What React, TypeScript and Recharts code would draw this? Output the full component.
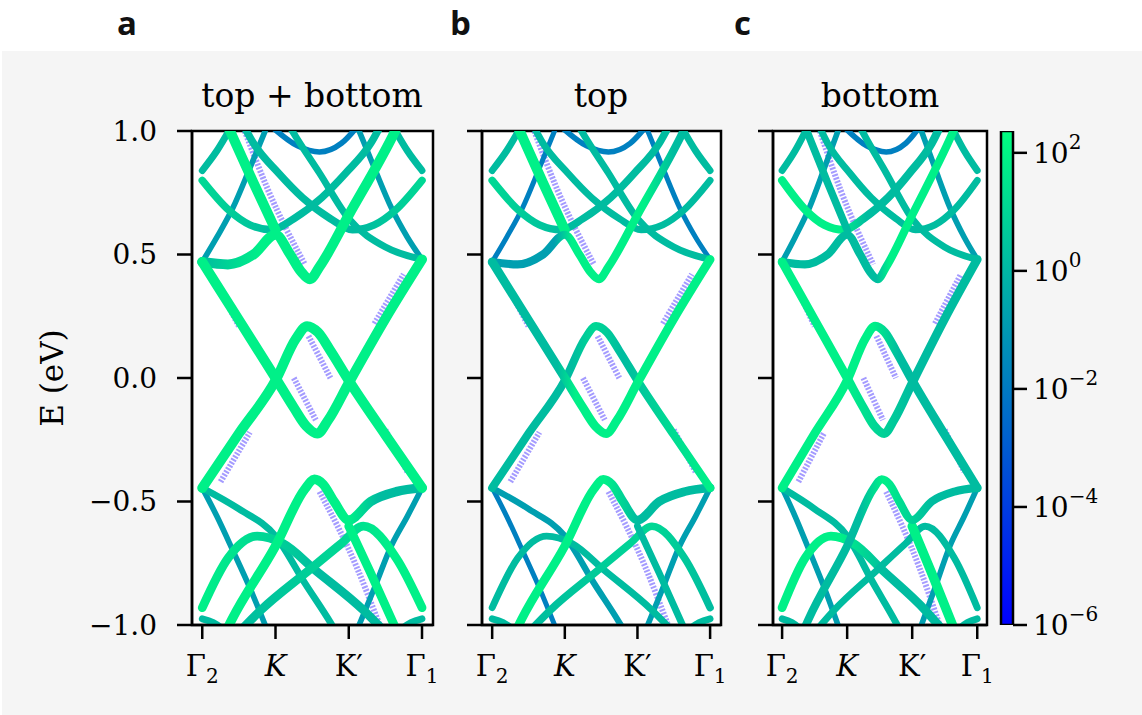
import { LineChart, Line, XAxis, YAxis, ReferenceArea, CartesianGrid, BarChart, Bar } from "recharts"

// k path: Γ2 = 0, K = 1, K' = 2, Γ1 = 3
const kTicks = [0, 1, 2, 3]
const eTicks = [-1, -0.5, 0, 0.5, 1]
const cbTicks = [-6, -4, -2, 0, 2] // log10 of the weight
const cbTop = 2.37

// bands as [k, E (eV)]
const bandA = [[0, 0.47], [0.5, 0.235], [1, 0], [1.25, -0.12], [1.42, -0.195], [1.57, -0.225], [1.72, -0.17], [2, -0.02], [2.5, 0.24], [3, 0.48]]
const bandB = [[0, -0.445], [0.5, -0.225], [1, -0.01], [1.28, 0.16], [1.43, 0.21], [1.58, 0.185], [1.75, 0.11], [2, -0.01], [2.5, -0.23], [3, -0.445]]
const bandC = [[0, 0.47], [0.35, 0.46], [0.7, 0.5], [1, 0.58], [1.2, 0.5], [1.35, 0.43], [1.47, 0.4], [1.6, 0.45], [2, 0.66], [2.6, 0.98], [2.7, 1.04]]
const bandCm = [[0.3, -1.04], [0.4, -0.98], [1, -0.68], [1.4, -0.45], [1.53, -0.41], [1.65, -0.43], [1.8, -0.5], [2, -0.575], [2.3, -0.5], [2.65, -0.46], [3, -0.445]]
const bandD = [[1.15, 1.04], [1.25, 0.99], [1.6, 0.83], [2, 0.645], [2.5, 0.53], [3, 0.48]]
const bandDm = [[0, -0.445], [0.5, -0.53], [1, -0.64], [1.4, -0.83], [1.75, -0.99], [1.85, -1.04]]
const bandE = [[2.1, -1.03], [2.35, -0.85], [2.58, -0.68], [2.8, -0.56], [3, -0.445]]
const bandEm = [[0, 0.47], [0.2, 0.57], [0.42, 0.69], [0.65, 0.85], [0.9, 1.03]]
const bandF = [[0, -0.445], [0.2, -0.56], [0.42, -0.7], [0.65, -0.85], [0.9, -1.03]]
const bandFm = [[2.1, 1.03], [2.35, 0.85], [2.58, 0.69], [2.8, 0.57], [3, 0.48]]
const bandHTL = [[0, 0.8], [0.36, 0.68], [0.65, 0.62], [0.95, 0.6], [1.25, 0.645], [1.63, 0.73], [1.96, 0.83], [2.3, 0.95], [2.45, 1.03]]
const bandHTR = [[0.55, 1.03], [0.7, 0.95], [1.04, 0.83], [1.37, 0.73], [1.75, 0.645], [2.05, 0.6], [2.35, 0.62], [2.64, 0.68], [3, 0.8]]
const bandHBL = [[0, -0.93], [0.35, -0.73], [0.75, -0.64], [1.1, -0.67], [1.55, -0.78], [2.2, -0.94], [2.5, -1.03]]
const bandHBR = [[0.5, -1.03], [0.8, -0.94], [1.45, -0.78], [1.9, -0.67], [2.2, -0.6], [2.65, -0.73], [3, -0.93]]
const bandI = [[0.32, 1.04], [0.38, 1.0], [0.7, 0.79], [1, 0.6]]
const bandIm = [[2, -0.6], [2.3, -0.79], [2.62, -1.0], [2.68, -1.04]]
const bandGL = [[0, 0.84], [0.2, 0.92], [0.42, 1.03]]
const bandGR = [[2.58, 1.03], [2.8, 0.92], [3, 0.84]]
const bandSL = [[0, -0.975], [0.15, -0.99], [0.3, -1.02]]
const bandSR = [[2.7, -1.02], [2.85, -0.99], [3, -0.975]]
const bandJ = [[0.9, 1.03], [1.3, 0.94], [1.6, 0.915], [1.9, 0.95], [2.15, 1.03]]

// faint low-weight states
const ghosts = [
  [[0.58, 1.0], [0.9, 0.76], [1.4, 0.46]],
  [[1.6, -0.46], [2.1, -0.76], [2.42, -1.0]],
  [[0.2, 0.38], [0.5, 0.21]],
  [[2.5, -0.21], [2.8, -0.38]],
  [[2.35, 0.22], [2.75, 0.42]],
  [[0.25, -0.42], [0.65, -0.22]],
  [[1.45, 0.17], [1.75, 0.0]],
  [[1.25, 0.0], [1.55, -0.17]],
]

const bands: Record<string, number[][]> = {
  A: bandA, B: bandB, C: bandC, Cm: bandCm, D: bandD, Dm: bandDm, E: bandE, Em: bandEm,
  F: bandF, Fm: bandFm, HTL: bandHTL, HTR: bandHTR, HBL: bandHBL, HBR: bandHBR,
  I: bandI, Im: bandIm, GL: bandGL, GR: bandGR, SL: bandSL, SR: bandSR, J: bandJ,
}
const drawOrder = ["J", "E", "Em", "F", "Fm", "SL", "SR", "GL", "GR", "D", "Dm", "HTL", "HTR", "HBL", "HBR", "I", "Im", "C", "Cm", "B", "A"]

// winter colormap shades
const G = "#00f088"
const GT = "#00d894"
const T = "#00bca0"
const TB = "#009fb0"
const BL = "#0080c0"

type Style = [Array<[number, string]>, number]

const styleAll: Record<string, Style> = {
  A: [[[0, G]], 8], B: [[[0, G]], 8], C: [[[0, T], [0.8, G]], 8], Cm: [[[0.4, G], [2, G], [2.4, T]], 7.5],
  D: [[[0, T]], 5.5], Dm: [[[0, T]], 5.5], E: [[[0, TB]], 4.5], Em: [[[0, TB]], 4.5], F: [[[0, TB]], 4.5], Fm: [[[0, TB]], 4.5],
  HTL: [[[0, GT], [1, T]], 6], HTR: [[[0, T], [2.2, T], [3, GT]], 6],
  HBL: [[[0, G], [0.8, GT], [1.6, T]], 7], HBR: [[[0, T], [1.9, GT], [2.6, G]], 7],
  I: [[[0, G]], 8], Im: [[[0, G]], 7], GL: [[[0, T]], 5.5], GR: [[[0, T]], 5.5], SL: [[[0, T]], 5.5], SR: [[[0, T]], 5.5],
  J: [[[0, BL]], 4.5],
}
const styleTop: Record<string, Style> = {
  A: [[[0, T], [0.9, T], [1.15, G]], 7], B: [[[0, T], [1.1, T], [1.4, GT], [1.8, T], [2.4, GT], [3, G]], 6.5],
  C: [[[0, TB], [0.85, TB], [1.1, G], [2.1, G], [2.5, T]], 6.5], Cm: [[[0.4, G], [1.55, G], [2, T]], 7],
  D: [[[0, T]], 5.5], Dm: [[[0, TB]], 5], E: [[[0, TB]], 4.5], Em: [[[0, BL]], 4], F: [[[0, BL]], 4], Fm: [[[0, BL]], 4],
  HTL: [[[0, GT], [1, T]], 6], HTR: [[[0, T]], 5.5], HBL: [[[0, T]], 5.5], HBR: [[[0, T], [2.2, GT], [3, T]], 6],
  I: [[[0, G]], 8], Im: [[[0, T]], 5.5], GL: [[[0, T]], 5.5], GR: [[[0, T]], 5.5], SL: [[[0, T]], 5.5], SR: [[[0, T]], 5.5],
  J: [[[0, BL]], 4.5],
}
const styleBottom: Record<string, Style> = {
  A: [[[0, G], [1, G], [1.4, GT], [2, T]], 7], B: [[[0, G], [1.4, G], [1.8, T]], 7],
  C: [[[0, T], [1.45, T], [1.65, G]], 6.5], Cm: [[[0.4, T], [1.2, T], [1.55, G], [1.9, GT], [2.3, T]], 6.5],
  D: [[[0, T]], 5.5], Dm: [[[0, T]], 5.5], E: [[[0, TB]], 4.5], Em: [[[0, TB]], 4.5], F: [[[0, TB]], 4.5], Fm: [[[0, TB]], 4.5],
  HTL: [[[0, G], [0.9, G], [1.3, T]], 6.5], HTR: [[[0, T]], 5.5], HBL: [[[0, G], [0.9, G], [1.6, T]], 7], HBR: [[[0, T]], 5.5],
  I: [[[0, T]], 6], Im: [[[0, G]], 7.5], GL: [[[0, T]], 5.5], GR: [[[0, T]], 5.5], SL: [[[0, T]], 5.5], SR: [[[0, T]], 5.5],
  J: [[[0, BL]], 4.5],
}

const SERIF = "DejaVu Serif"
const WIDTH_SCALE = 1.25
const kDomain = [-0.14, 3.15]
const axisStyle = { stroke: "#000", strokeWidth: 2.5 }
const pts = (arr: number[][]) => arr.map(([k, e]) => ({ k, e }))
const fmtE = (v: number) => (v < 0 ? "−" : "") + Math.abs(v).toFixed(1)

const KTick = ({ x, y, payload }: any) => {
  const v = payload.value
  const base = { x, y: y + 27, textAnchor: "middle" as const, fontFamily: SERIF, fontSize: 29, fill: "#000" }
  if (v === 1) return <text {...base}><tspan fontStyle="italic">K</tspan></text>
  if (v === 2) return <text {...base}>K′</text>
  return (
    <text {...base}>
      Γ<tspan fontSize={20} dy={7}>{v === 0 ? "2" : "1"}</tspan>
    </text>
  )
}

const CbTick = ({ x, y, payload }: any) => {
  const v = payload.value
  const sup = (v < 0 ? "−" : "") + Math.abs(v)
  return (
    <text x={x} y={y + 10} fontFamily={SERIF} fontSize={28} fill="#000">
      10<tspan fontSize={20} dy={-14}>{sup}</tspan>
    </text>
  )
}

function Panel({ id, width, yWidth, showLabels, styles }: { id: string; width: number; yWidth: number; showLabels: boolean; styles: Record<string, Style> }) {
  const grads = drawOrder.filter((n) => styles[n][0].length > 1).map((n) => {
    const ks = bands[n].map((p) => p[0])
    const k0 = Math.min(...ks)
    const k1 = Math.max(...ks)
    return (
      <linearGradient key={n} id={`${id}-${n}`} x1="0" y1="0" x2="1" y2="0">
        {styles[n][0].map(([k, c], i) => (
          <stop key={i} offset={Math.min(1, Math.max(0, (k - k0) / (k1 - k0)))} stopColor={c} />
        ))}
      </linearGradient>
    )
  })
  return (
    <LineChart width={width} height={715} margin={{ top: 131, right: 10, bottom: 30, left: 0 }}>
      <defs>{grads}</defs>
      <CartesianGrid fill="#fff" horizontal={false} vertical={false} />
      <XAxis
        type="number" dataKey="k" domain={kDomain} ticks={kTicks} allowDataOverflow interval={0}
        height={60} tickSize={14} tickMargin={10} axisLine={axisStyle} tickLine={axisStyle}
        tick={(p: any) => <KTick {...p} />}
      />
      <YAxis
        type="number" dataKey="e" domain={[-1, 1]} ticks={eTicks} allowDataOverflow interval={0}
        width={yWidth} tickSize={15} tickMargin={20} axisLine={axisStyle} tickLine={axisStyle}
        tickFormatter={showLabels ? fmtE : () => ""}
        tick={{ fill: "#000", fontSize: 28, fontFamily: SERIF }}
      />
      {ghosts.map((g, i) => (
        <Line key={`g${i}`} data={pts(g)} dataKey="e" type="monotone" dot={false} isAnimationActive={false}
          stroke="#4a38ff" strokeOpacity={0.5} strokeWidth={6} strokeDasharray="2 1.5" />
      ))}
      {drawOrder.map((n) => {
        const [stops, w] = styles[n]
        return (
          <Line key={n} data={pts(bands[n])} dataKey="e" type="monotone" dot={false} isAnimationActive={false}
            stroke={stops.length > 1 ? `url(#${id}-${n})` : stops[0][1]} strokeWidth={w * WIDTH_SCALE} strokeLinecap="round" />
        )
      })}
      <ReferenceArea x1={kDomain[0]} x2={kDomain[1]} y1={-1} y2={1} fill="none" stroke="#000" strokeWidth={2.5} />
    </LineChart>
  )
}

const cbData = [{ name: "weight", range: [cbTicks[0], cbTop] }]

function ColorBar() {
  return (
    <BarChart width={130} height={715} data={cbData} margin={{ top: 131, right: 0, bottom: 90, left: 11 }} barCategoryGap={0}>
      <defs>
        <linearGradient id="winter" x1="0" y1="0" x2="0" y2="1">
          <stop offset={0} stopColor="#00ff80" />
          <stop offset={1} stopColor="#0000ff" />
        </linearGradient>
      </defs>
      <XAxis dataKey="name" hide />
      <YAxis
        orientation="right" type="number" domain={[cbTicks[0], cbTop]} ticks={cbTicks} allowDataOverflow interval={0}
        width={107} tickSize={14} tickMargin={6} axisLine={false} tickLine={axisStyle}
        tick={(p: any) => <CbTick {...p} />}
      />
      <Bar dataKey="range" fill="url(#winter)" stroke="#000" strokeWidth={2.5} isAnimationActive={false} />
    </BarChart>
  )
}

export default function App() {
  return (
    <div style={{ position: "absolute", left: 0, top: 0, width: 1142, height: 715, background: "#fff", overflow: "hidden" }}>
      <div style={{ position: "absolute", left: 2, top: 51, width: 1140, height: 664, background: "#f5f5f5" }} />
      <div style={{ position: "absolute", left: 0, top: 0 }}>
        <Panel id="pa" width={443} yWidth={192} showLabels styles={styleAll} />
      </div>
      <div style={{ position: "absolute", left: 462, top: 0 }}>
        <Panel id="pb" width={269} yWidth={20} showLabels={false} styles={styleTop} />
      </div>
      <div style={{ position: "absolute", left: 753, top: 0 }}>
        <Panel id="pc" width={244} yWidth={20} showLabels={false} styles={styleBottom} />
      </div>
      <div style={{ position: "absolute", left: 990, top: 0 }}>
        <ColorBar />
      </div>
      <svg width={1142} height={715} style={{ position: "absolute", left: 0, top: 0, pointerEvents: "none" }}>
        <g fontFamily="Open Sans" fontWeight={700} fontSize={33} fill="#111">
          <text x={117} y={35}>a</text>
          <text x={450} y={35}>b</text>
          <text x={734} y={35}>c</text>
        </g>
        <g fontFamily={SERIF} fontSize={33} fill="#000" textAnchor="middle">
          <text x={312} y={107}>top + bottom</text>
          <text x={601} y={107}>top</text>
          <text x={880} y={107}>bottom</text>
        </g>
        <text x={52} y={378} transform="rotate(-90 52 378)" textAnchor="middle" dominantBaseline="central"
          fontFamily={SERIF} fontSize={31} fill="#000">E (eV)</text>
      </svg>
    </div>
  )
}
